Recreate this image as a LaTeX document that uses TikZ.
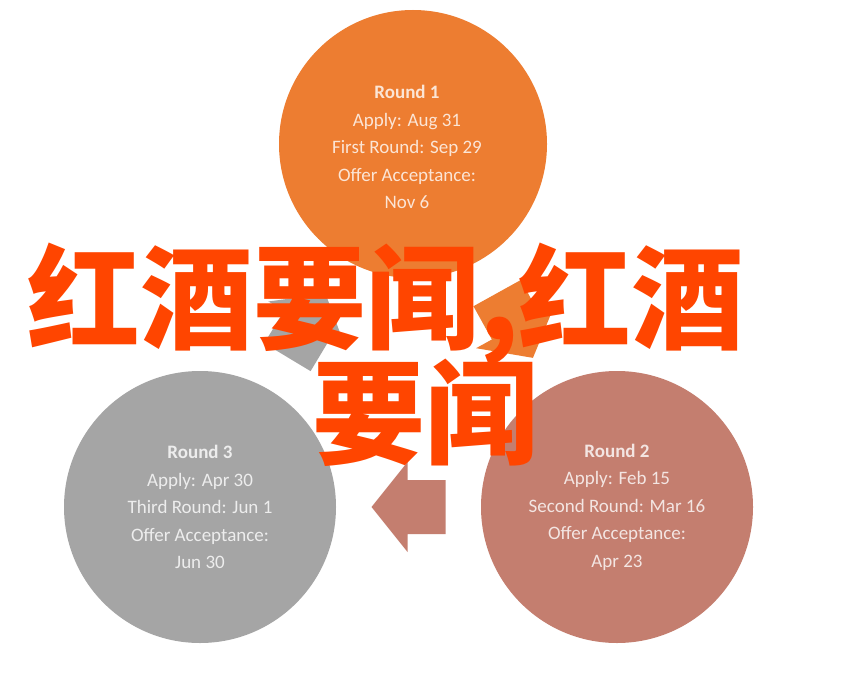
\documentclass[tikz,border=0pt]{standalone}
\usepackage{fontspec}
\setmainfont{Carlito}
\newfontfamily\cjk{Noto Sans CJK SC}
\usetikzlibrary{calc}

\definecolor{roundone}{HTML}{ED7D31}
\definecolor{roundtwo}{HTML}{C47E6F}
\definecolor{roundthree}{HTML}{A5A5A5}
\definecolor{banner}{HTML}{FF4500}

\tikzset{
  disc/.style={circle, minimum size=272pt, inner sep=0pt},
  dates/.style={text=white, text opacity=0.8, align=center, inner sep=0pt,
    font=\fontsize{19}{27.5}\selectfont},
  bannertext/.style={text=banner, inner sep=0pt, anchor=base west,
    font=\cjk\bfseries\fontsize{113}{115}\selectfont}
}

\begin{document}
\begin{tikzpicture}[x=1pt, y=-1pt]
\useasboundingbox (0,0) rectangle (845,682);
\fill[white] (0,0) rectangle (845,682);
% the three rounds
\node[disc, fill=roundone, minimum size=268pt] (r1) at (413,144) {};
\node[disc, fill=roundthree] (r3) at (200,507) {};
\node[disc, fill=roundtwo] (r2) at (617,507) {};
\node[dates] (t1) at ([xshift=-6pt, yshift=-3pt]r1.center)
  {\textbf{Round 1}\\Apply: Aug 31\\First Round: Sep 29\\Offer Acceptance:\\Nov 6};
\node[dates] (t3) at (r3.center)
  {\textbf{Round 3}\\Apply: Apr 30\\Third Round: Jun 1\\Offer Acceptance:\\Jun 30};
\node[dates] (t2) at (r2.center)
  {\textbf{Round 2}\\Apply: Feb 15\\Second Round: Mar 16\\Offer Acceptance:\\Apr 23};
% block arrows half way between the rounds
\foreach \a/\b/\ang/\col in {r1/r2/-61/roundone, r2/r3/180/roundtwo, r3/r1/59/roundthree}
  \fill[\col, shift={($(\a)!0.5!(\b)$)}, rotate=\ang]
    (37,0) -- (1,45) -- (1,27) -- (-37,27) -- (-37,-27) -- (1,-27) -- (1,-45) -- cycle;
% banner on top
\node[bannertext] (head1) at (27,340) {红酒要闻,红酒};
\node[bannertext] (head2) at (312,455) {要闻};
\end{tikzpicture}
\end{document}
